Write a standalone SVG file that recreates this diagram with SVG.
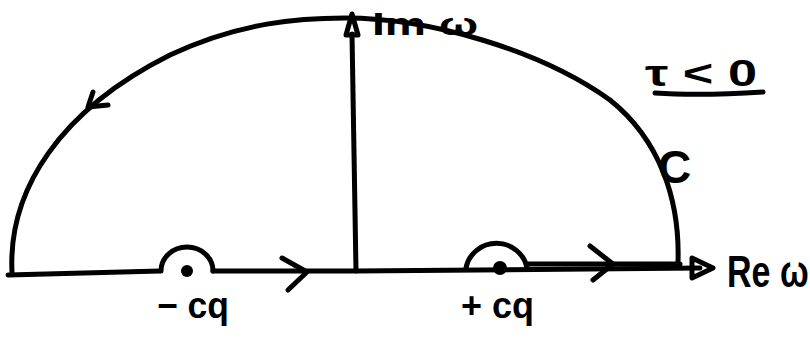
<svg xmlns="http://www.w3.org/2000/svg" width="810" height="341" viewBox="0 0 810 341">
<style>
.s{fill:none;stroke:#000;stroke-width:5;stroke-linecap:round;stroke-linejoin:round}
.t{font-family:"Liberation Sans","DejaVu Sans",sans-serif;font-weight:bold;fill:#000}
</style>
<rect width="810" height="341" fill="#fff"/>
<g id="axes">
<path class="s" d="M 8 275 L 160 271 M 213 271 L 356 271 L 700 268"/>
<path class="s" d="M 527 264 L 680 264"/>
<path class="s" d="M 692 258 L 713 268 L 692 278 Z"/>
<path class="s" d="M 356 271 L 352 34"/>
<path class="s" d="M 346 35 L 352 14 L 358 35 Z"/>
</g>
<g id="contour">
<path class="s" d="M 12 272 C 8 190, 60 110, 170 55 C 240 22, 300 18, 345 18 C 430 18, 540 50, 610 100 C 660 140, 680 200, 678 262"/>
<path class="s" d="M 93 92 L 88 107 L 108 105"/>
<path class="s" d="M 161 271 A 26 24 0 0 1 213 271"/>
<path class="s" d="M 466 268 A 31 30 0 0 1 527 268"/>
<path class="s" d="M 282 258 L 307 272 L 288 290"/>
<path class="s" d="M 590 246 L 613 264 L 593 280"/>
<circle cx="187" cy="271" r="6"/>
<circle cx="500" cy="268" r="7"/>
</g>
<g id="labels">
<text class="t" x="372" y="35" font-size="32" textLength="106" lengthAdjust="spacingAndGlyphs">Im ω</text>
<text class="t" x="645" y="86" font-size="36" textLength="112" lengthAdjust="spacingAndGlyphs">τ &lt; 0</text>
<path class="s" d="M 655 93 Q 700 96 763 92"/>
<text class="t" x="658" y="183" font-size="46">C</text>
<text class="t" font-size="34" transform="translate(727,287) scale(1,1.3)">Re ω</text>
<text class="t" x="157" y="318" font-size="36" textLength="72" lengthAdjust="spacingAndGlyphs">− cq</text>
<text class="t" x="461" y="318" font-size="36" textLength="73" lengthAdjust="spacingAndGlyphs">+ cq</text>
</g>
</svg>
